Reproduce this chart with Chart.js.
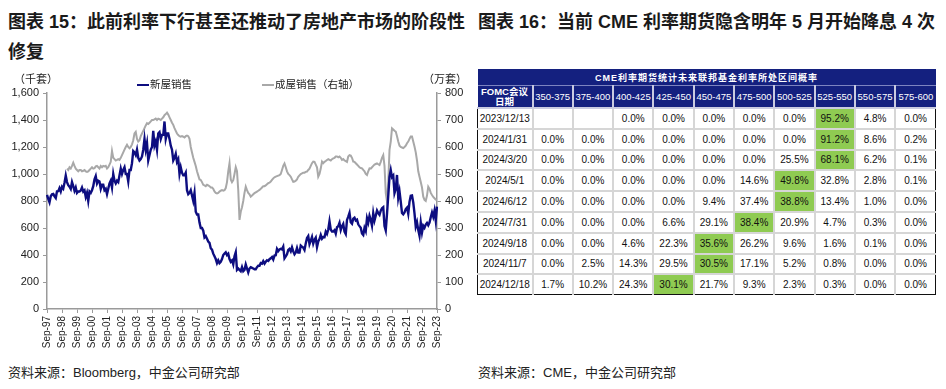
<!DOCTYPE html>
<html>
<head>
<meta charset="utf-8">
<script src="https://cdn.jsdelivr.net/npm/chart.js@4.4.0/dist/chart.umd.min.js"></script>
<style>
  body { margin: 0; width: 946px; height: 389px; background: #fff; position: relative; overflow: hidden;
         font-family: "Liberation Sans", "Noto Sans CJK SC", sans-serif; color: #1a1a1a; }
  .title { position: absolute; font-weight: bold; font-size: 18px; line-height: 30px; white-space: nowrap; }
  .source { position: absolute; top: 364px; font-size: 13px; line-height: 18px; white-space: nowrap; color: #222; }
  .unit { position: absolute; top: 71px; font-size: 11px; line-height: 16px; color: #222; }
  #chartBox { position: absolute; left: 0; top: 0; width: 470px; height: 352px; }
  #rateTable { position: absolute; left: 477px; top: 69px; width: 458px; border-collapse: collapse; table-layout: fixed;
               font-size: 10px; text-align: center; color: #111; }
  #rateTable td { border: 2px solid #d6d6d6; height: 18.8px; padding: 0; }
  #rateTable tr.head1 td { background: #14207f; color: #fff; font-weight: bold; letter-spacing: 1px; height: 16px;
                           border: none; border-bottom: 1px solid #7d84c0; font-size: 9px; }
  #rateTable tr.head2 td { background: #14207f; color: #fff; height: 21px; border: 2px solid #c9cbe0; border-top: none;
                           font-size: 9.5px; }
  #rateTable tr.head2 td:first-child { font-weight: bold; line-height: 10px; border-left: none; }
  #rateTable tr.head2 td:last-child { border-right: none; }
  #rateTable td.hi { background: #8fcb52; }
  #rateTable tr.row td:first-child { border-left: 1.5px solid #111; }
  #rateTable tr.row td:last-child { border-right: 1.5px solid #111; }
  #rateTable tr.row:last-child td { border-bottom: 1.5px solid #111; }
</style>
</head>
<body>
<div class="title" style="left:8px; top:7px;">图表 15：此前利率下行甚至还推动了房地产市场的阶段性</div>
<div class="title" style="left:8px; top:37px;">修复</div>
<div class="title" style="left:478px; top:7px;">图表 16：当前 CME 利率期货隐含明年 5 月开始降息 4 次</div>

<div id="chartBox"><canvas id="salesChart"></canvas></div>
<div class="unit" style="left:14px;">（千套）</div>
<div class="unit" style="left:423px;">（万套）</div>

<table id="rateTable"></table>

<div class="source" style="left:8px;">资料来源：Bloomberg，中金公司研究部</div>
<div class="source" style="left:478px;">资料来源：CME，中金公司研究部</div>

<script>
// x axis: monthly, Sep-97 .. Sep-23
const xTickLabels = ["Sep-97", "Sep-98", "Sep-99", "Sep-00", "Sep-01", "Sep-02", "Sep-03", "Sep-04", "Sep-05",
  "Sep-06", "Sep-07", "Sep-08", "Sep-09", "Sep-10", "Sep-11", "Sep-12", "Sep-13", "Sep-14", "Sep-15", "Sep-16",
  "Sep-17", "Sep-18", "Sep-19", "Sep-20", "Sep-21", "Sep-22", "Sep-23"];

// new home sales, thousand units (left axis), Sep-97 .. Sep-23
const newHomeSales = [
  845, 815, 790, 835,
  850, 852, 834, 822, 872, 873, 896, 870, 905, 892, 935, 988,
  940, 917, 906, 889, 940, 910, 875, 900, 860, 870, 870, 878,
  900, 870, 880, 830, 860, 800, 870, 860, 880, 910, 960, 985,
  930, 950, 945, 890, 920, 920, 880, 890, 850, 890, 930, 950,
  900, 1000, 950, 930, 950, 940, 990, 1040, 1000, 1030, 1050, 1000,
  1000, 945, 1030, 1030, 1080, 1170, 1160, 1140, 1180, 1120, 1100, 1110,
  1130, 1180, 1260, 1180, 1230, 1100, 1140, 1180, 1200, 1320, 1210, 1240,
  1180, 1300, 1310, 1260, 1290, 1290, 1389, 1260, 1300, 1300, 1260, 1210,
  1180, 1100, 1120, 1150, 1090, 1110, 1000, 1050, 1010, 990, 990, 1010,
  880, 850, 860, 880, 840, 800, 860, 720, 700, 700, 640, 600,
  600, 580, 530, 540, 520, 500, 490, 450, 440, 410, 390, 370,
  340, 360, 340, 350, 370, 400, 410, 420, 400, 410, 370, 350,
  360, 330, 390, 420, 290, 300, 290, 280, 310, 280, 290, 330,
  300, 270, 300, 310, 305, 300, 295, 295, 310, 320, 320, 340,
  336, 354, 336, 350, 361, 356, 369, 376, 385, 366, 396, 398,
  445, 429, 441, 446, 442, 462, 375, 389, 405, 437, 445, 427,
  457, 427, 405, 419, 452, 418, 418, 470, 462, 455, 438, 486,
  526, 540, 481, 507, 534, 484, 513, 529, 458, 500, 518, 549,
  521, 533, 532, 573, 556, 589, 650, 589, 574, 574, 584, 558,
  606, 613, 638, 585, 613, 630, 573, 555, 660, 684, 712, 643,
  632, 669, 677, 656, 662, 627, 614, 602, 559, 548, 601, 577,
  673, 640, 690, 660, 617, 710, 655, 691, 729, 710, 697, 728,
  746, 754, 615, 582, 704, 839, 979, 1029, 977, 989, 858, 889,
  993, 823, 873, 796, 711, 701, 715, 740, 751, 705, 794, 839,
  841, 790, 709, 610, 642, 585, 543, 640, 567, 617, 602, 625,
  637, 620, 640, 680, 715, 683, 728, 654, 759
];

// existing home sales, 10k units (right axis), starts Jan-99
const existingStart = "Jan-99";
const existingHomeSales = [
  520, 515, 525, 520, 530, 542, 530, 520, 515, 510, 515, 515,
  510, 512, 515, 510, 508, 510, 515, 520, 525, 520, 522, 528,
  530, 525, 520, 530, 525, 530, 528, 530, 520, 525, 535, 545,
  585, 560, 555, 550, 552, 555, 552, 560, 570, 580, 590, 600,
  608, 600, 595, 600, 610, 625, 650, 656, 630, 620, 625, 640,
  650, 660, 670, 680, 688, 685, 690, 695, 700, 700, 702, 705,
  700, 705, 703, 700, 705, 710, 718, 722, 727, 720, 710, 700,
  690, 682, 670, 660, 650, 644, 640, 638, 640, 638, 635, 640,
  642, 640, 630, 600, 580, 560, 545, 530, 510, 495, 480, 478,
  470, 460, 458, 455, 460, 458, 455, 450, 450, 445, 435, 430,
  428, 430, 435, 438, 440, 438, 440, 448, 470, 510, 540, 480,
  470, 477, 500, 525, 510, 440, 330, 360, 377, 400, 430, 453,
  440, 430, 425, 416, 420, 425, 429, 432, 435, 438, 441, 445,
  450, 455, 455, 458, 462, 466, 468, 472, 478, 484, 488, 490,
  492, 494, 496, 500, 515, 530, 539, 525, 510, 500, 496, 490,
  480, 471, 472, 475, 480, 490, 495, 500, 502, 505, 505, 508,
  509, 515, 520, 530, 540, 546, 545, 535, 525, 490, 500, 520,
  546, 540, 545, 548, 552, 555, 552, 550, 555, 558, 560, 565,
  565, 562, 565, 560, 552, 555, 550, 548, 545, 565, 570, 568,
  560, 546, 545, 540, 535, 530, 525, 522, 521, 515, 510, 500,
  496, 510, 521, 520, 525, 530, 535, 537, 539, 536, 533, 545,
  560, 570, 530, 430, 398, 470, 589, 620, 669, 665, 660, 657,
  640, 620, 605, 600, 598, 596, 600, 605, 614, 620, 630, 639,
  639, 620, 602, 580, 550, 510, 490, 470, 450, 416, 404, 400,
  420, 453, 445, 430, 422, 415, 410, 405, 404
];

const leftTicks = [0, 200, 400, 600, 800, 1000, 1200, 1400, 1600];
const rightTicks = [0, 100, 200, 300, 400, 500, 600, 700, 800];

// CME table
const tableTitle = "CME利率期货统计未来联邦基金利率所处区间概率";
const rateBuckets = ["350-375", "375-400", "400-425", "425-450", "450-475", "475-500", "500-525", "525-550", "550-575", "575-600"];
const meetingDates = ["2023/12/13", "2024/1/31", "2024/3/20", "2024/5/1", "2024/6/12", "2024/7/31", "2024/9/18", "2024/11/7", "2024/12/18"];
const probRows = [
  [null, null, 0.0, 0.0, 0.0, 0.0, 0.0, 95.2, 4.8, 0.0],
  [0.0, 0.0, 0.0, 0.0, 0.0, 0.0, 0.0, 91.2, 8.6, 0.2],
  [0.0, 0.0, 0.0, 0.0, 0.0, 0.0, 25.5, 68.1, 6.2, 0.1],
  [0.0, 0.0, 0.0, 0.0, 0.0, 14.6, 49.8, 32.8, 2.8, 0.1],
  [0.0, 0.0, 0.0, 0.0, 9.4, 37.4, 38.8, 13.4, 1.0, 0.0],
  [0.0, 0.0, 0.0, 6.6, 29.1, 38.4, 20.9, 4.7, 0.3, 0.0],
  [0.0, 0.0, 4.6, 22.3, 35.6, 26.2, 9.6, 1.6, 0.1, 0.0],
  [0.0, 2.5, 14.3, 29.5, 30.5, 17.1, 5.2, 0.8, 0.0, 0.0],
  [1.7, 10.2, 24.3, 30.1, 21.7, 9.3, 2.3, 0.3, 0.0, 0.0]
];

// month labels for the category axis
const monNames = ["Jan", "Feb", "Mar", "Apr", "May", "Jun", "Jul", "Aug", "Sep", "Oct", "Nov", "Dec"];
const monthLabels = [];
for (let i = 0; i < newHomeSales.length; i++) {
  const m = (8 + i) % 12;
  const y = 1997 + Math.floor((8 + i) / 12);
  monthLabels.push(monNames[m] + "-" + String(y).slice(2));
}
const offset = monthLabels.indexOf(existingStart);
const existingAligned = monthLabels.map((_, i) => (i < offset ? null : existingHomeSales[i - offset]));

const fontFam = '"Liberation Sans", "Noto Sans CJK SC", sans-serif';

// legend drawn at fixed spots like the original
const fixedLegend = {
  id: "fixedLegend",
  afterDraw(chart, args, opts) {
    const ctx = chart.ctx;
    ctx.save();
    ctx.font = "10.5px " + fontFam;
    ctx.textBaseline = "middle";
    chart.data.datasets.forEach((ds, i) => {
      const x = opts.xs[i];
      ctx.strokeStyle = ds.borderColor;
      ctx.lineWidth = 2;
      ctx.beginPath();
      ctx.moveTo(x, opts.y);
      ctx.lineTo(x + 12, opts.y);
      ctx.stroke();
      ctx.fillStyle = "#222";
      ctx.fillText(ds.label, x + 13, opts.y);
    });
    ctx.restore();
  }
};

new Chart(document.getElementById("salesChart"), {
  type: "line",
  data: {
    labels: monthLabels,
    datasets: [
      {
        label: "新屋销售",
        data: newHomeSales,
        borderColor: "#0d0d80",
        borderWidth: 2.4,
        pointRadius: 0,
        yAxisID: "y",
        order: 1
      },
      {
        label: "成屋销售（右轴）",
        data: existingAligned,
        borderColor: "#a8a8a8",
        borderWidth: 2,
        pointRadius: 0,
        yAxisID: "y1",
        order: 2
      }
    ]
  },
  options: {
    responsive: true,
    maintainAspectRatio: false,
    animation: false,
    layout: { padding: { top: 93 } },
    plugins: {
      legend: { display: false },
      tooltip: { enabled: false },
      fixedLegend: { xs: [137, 262], y: 85 }
    },
    scales: {
      x: {
        ticks: {
          autoSkip: false,
          maxRotation: 90,
          minRotation: 90,
          padding: 3,
          color: "#222",
          font: { family: fontFam, size: 10 },
          callback: function (v, i) {
            return xTickLabels.includes(monthLabels[i]) ? monthLabels[i] : null;
          }
        },
        grid: { drawOnChartArea: false, tickLength: 4, color: "#9a9a9a" },
        border: { color: "#9a9a9a", width: 1.5 },
        afterFit: (s) => { s.height = 43; }
      },
      y: {
        min: 0,
        max: 1600,
        afterBuildTicks: (s) => { s.ticks = leftTicks.map((v) => ({ value: v })); },
        ticks: {
          color: "#222",
          padding: 4,
          font: { family: fontFam, size: 11 },
          callback: (v) => v.toLocaleString("en-US")
        },
        grid: { drawOnChartArea: false, tickLength: 4, color: "#9a9a9a" },
        border: { color: "#9a9a9a", width: 1.5 },
        afterFit: (s) => { s.width = 47; }
      },
      y1: {
        position: "right",
        min: 0,
        max: 800,
        afterBuildTicks: (s) => { s.ticks = rightTicks.map((v) => ({ value: v })); },
        ticks: {
          color: "#222",
          padding: 4,
          font: { family: fontFam, size: 11 }
        },
        grid: { drawOnChartArea: false, tickLength: 4, color: "#9a9a9a" },
        border: { color: "#9a9a9a", width: 1.5 },
        afterFit: (s) => { s.width = 33; }
      }
    }
  },
  plugins: [fixedLegend]
});

// build the table
const table = document.getElementById("rateTable");
let html = '<colgroup><col style="width:55px">';
rateBuckets.forEach(() => { html += '<col style="width:40.3px">'; });
html += "</colgroup>";
html += '<tr class="head1"><td colspan="' + (rateBuckets.length + 1) + '">' + tableTitle + "</td></tr>";
html += '<tr class="head2"><td>FOMC会议<br>日期</td>' + rateBuckets.map((b) => "<td>" + b + "</td>").join("") + "</tr>";
probRows.forEach((row, r) => {
  const top = Math.max(...row.filter((v) => v !== null));
  html += '<tr class="row"><td>' + meetingDates[r] + "</td>";
  row.forEach((v) => {
    if (v === null) html += "<td></td>";
    else html += "<td" + (v === top ? ' class="hi"' : "") + ">" + v.toFixed(1) + "%</td>";
  });
  html += "</tr>";
});
table.innerHTML = html;
</script>
</body>
</html>
